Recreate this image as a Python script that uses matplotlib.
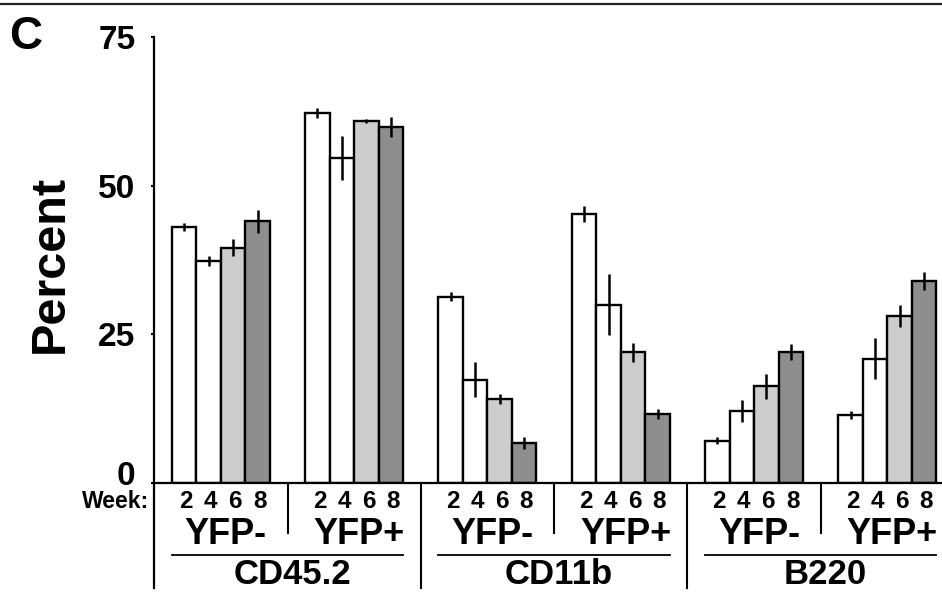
import matplotlib
matplotlib.use("Agg")
import matplotlib.pyplot as plt
from matplotlib.lines import Line2D
from matplotlib.transforms import blended_transform_factory, ScaledTranslation
import numpy as np

plt.rcParams['font.family'] = ['Liberation Sans', 'DejaVu Sans']
plt.rcParams['font.weight'] = 'bold'

# ---------------- data ----------------
weeks = ["2", "4", "6", "8"]
markers = ["CD45.2", "CD11b", "B220"]
fractions = ["YFP-", "YFP+"]

cd45_neg = [43.0, 37.3, 39.6, 44.0]
cd45_neg_err = [0.7, 0.8, 1.45, 1.9]
cd45_pos = [62.2, 54.6, 60.9, 59.9]
cd45_pos_err = [0.8, 3.7, 0.3, 1.7]
cd11b_neg = [31.3, 17.4, 14.1, 6.8]
cd11b_neg_err = [0.75, 2.9, 0.8, 1.0]
cd11b_pos = [45.2, 30.0, 22.0, 11.6]
cd11b_pos_err = [1.3, 5.1, 1.6, 0.8]
b220_neg = [7.1, 12.1, 16.3, 22.0]
b220_neg_err = [0.6, 1.9, 2.1, 1.35]
b220_pos = [11.4, 20.9, 28.1, 33.9]
b220_pos_err = [0.7, 3.4, 1.8, 1.5]

yticks = [0, 25, 50, 75]

groups = [cd45_neg, cd45_pos, cd11b_neg, cd11b_pos, b220_neg, b220_pos]
group_errs = [cd45_neg_err, cd45_pos_err, cd11b_neg_err, cd11b_pos_err,
              b220_neg_err, b220_pos_err]
bar_colors = ["#ffffff", "#ffffff", "#cdcdcd", "#8e8e8e"]

# ---------------- figure ----------------
W, H = 942, 592
fig = plt.figure(figsize=(W / 100, H / 100), dpi=100)
fig.patch.set_facecolor("white")

def fy(ypix):
    return 1 - ypix / H

def fx(xpix):
    return xpix / W

ax = fig.add_axes([fx(154), fy(483), 1 - fx(154), fy(37) - fy(483)])

group_step = 5.44
bar_w = 1.0
lw_edge = 1.7

for gi, (vals, errs) in enumerate(zip(groups, group_errs)):
    start = gi * group_step
    xs = start + np.arange(len(vals)) * bar_w + bar_w / 2
    ax.bar(xs, vals, width=bar_w, color=bar_colors, edgecolor="black",
           linewidth=lw_edge, zorder=2)
    ax.errorbar(xs, vals, yerr=errs, fmt="none", ecolor="black",
                elinewidth=1.8, capsize=0, zorder=3)

xmin = -0.73
xmax = 31.43
ax.set_xlim(xmin, xmax)
ax.set_ylim(0, 75)
ax.set_yticks(yticks)
ax.set_yticklabels([str(t) for t in yticks], fontsize=24, fontweight="bold")
ax.set_xticks([])
ax.tick_params(axis="y", direction="out", length=2.5, width=1.5, pad=11)
for s in ["top", "right"]:
    ax.spines[s].set_visible(False)
ax.spines["left"].set_linewidth(1.6)
ax.spines["bottom"].set_linewidth(1.6)

# lift the "0" label a little, as in the original
zero_lbl = ax.get_yticklabels()[0]
zero_lbl.set_transform(zero_lbl.get_transform() +
                       ScaledTranslation(0, 10 / 100, fig.dpi_scale_trans))

# ---------------- lower annotations ----------------
trans = blended_transform_factory(ax.transData, fig.transFigure)

fig.text(fx(149), fy(501), "Week:", ha="right", va="center",
         fontsize=16.5, fontweight="bold")

for gi, vals in enumerate(groups):
    start = gi * group_step
    for j, w in enumerate(weeks):
        ax.text(start + j * bar_w + bar_w / 2 + 0.08, fy(501), w,
                transform=trans, ha="center", va="center", fontsize=17.5,
                fontweight="bold", clip_on=False)
    ax.text(start + 2 * bar_w + 0.2, fy(534), fractions[gi % 2],
            transform=trans, ha="center", va="center", fontsize=26,
            fontweight="bold", clip_on=False)

for mi, m in enumerate(markers):
    s = (2 * mi) * group_step
    e = (2 * mi + 1) * group_step + 4 * bar_w
    ax.add_line(Line2D([s, e], [fy(555), fy(555)], transform=trans,
                       color="black", lw=1.3, clip_on=False))
    ax.text((s + e) / 2 + 0.2, fy(584), m, transform=trans, ha="center",
            va="baseline", fontsize=25, fontweight="bold", clip_on=False)
    # minor separator between YFP- and YFP+
    xm = (2 * mi) * group_step + 4 * bar_w + (group_step - 4 * bar_w) / 2
    ax.add_line(Line2D([xm, xm], [fy(483), fy(533)], transform=trans,
                       color="black", lw=1.5, clip_on=False))
    # major separators
    if mi > 0:
        xM = (2 * mi - 1) * group_step + 4 * bar_w + (group_step - 4 * bar_w) / 2
        ax.add_line(Line2D([xM, xM], [fy(483), fy(588)], transform=trans,
                           color="black", lw=1.5, clip_on=False))

# left axis extension below
ax.add_line(Line2D([xmin, xmin], [fy(483), fy(588)], transform=trans,
                   color="black", lw=1.6, clip_on=False))

# y label
fig.text(fx(50), fy(264), "Percent", rotation=90, ha="center", va="center",
         fontsize=35, fontweight="bold")

# panel letter
fig.text(fx(9), fy(37), "C", ha="left", va="center", fontsize=33,
         fontweight="bold")

# top border line
fig.add_artist(Line2D([0, 1], [fy(4), fy(4)], transform=fig.transFigure,
                      color="#222222", lw=1.6))

fig.savefig("out.png", dpi=100)
